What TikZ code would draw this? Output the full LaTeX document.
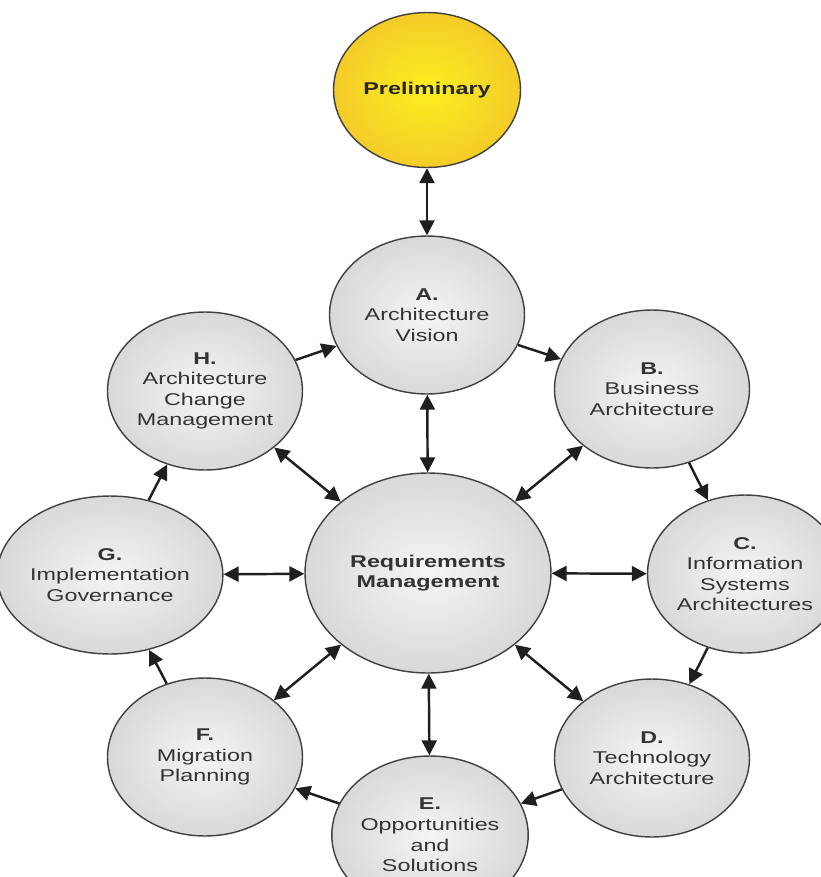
\documentclass[tikz,border=0pt]{standalone}
\usepackage{fontspec}
\setmainfont{Liberation Sans}[FakeStretch=1.37]
\usetikzlibrary{shapes.geometric,arrows.meta}
\definecolor{prelimin}{RGB}{252,238,32}
\definecolor{prelimout}{RGB}{244,204,40}
\begin{document}
\begin{tikzpicture}[x=0.02cm,y=-0.02cm,>={Triangle[length=0.3cm,width=0.3cm]},
  phase/.style={ellipse,draw=black!75,line width=0.8pt,inner sep=0pt,
    minimum width=3.9cm,minimum height=3.16cm,align=center,text=black!80,
    shading=radial,inner color=black!4,outer color=black!15,
    font=\fontsize{9.7pt}{11.7pt}\selectfont},
  link/.style={line width=1.4pt,draw=black!88}]
 \clip (0,0) rectangle (821,877);
 \node[phase,minimum width=3.74cm,minimum height=3.1cm,inner color=prelimin,outer color=prelimout,
   text=black!85] (pre) at (427,90) {\textbf{Preliminary}};
 \node[phase,minimum width=4.92cm,minimum height=4cm] (rm) at (428,573)
   {\textbf{Requirements}\\\textbf{Management}};
 \foreach \n/\x/\y/\t in {
   a/427/315/{\textbf{A.}\\Architecture\\Vision},
   b/652/389/{\textbf{B.}\\Business\\Architecture},
   c/745/574/{\textbf{C.}\\Information\\Systems\\Architectures},
   d/652/758/{\textbf{D.}\\Technology\\Architecture},
   e/430/835/{\textbf{E.}\\Opportunities\\and\\Solutions},
   f/205/757/{\textbf{F.}\\Migration\\Planning},
   g/110/575/{\textbf{G.}\\Implementation\\Governance},
   h/205/391/{\textbf{H.}\\Architecture\\Change\\Management}}
   \node[phase] (\n) at (\x,\y) {\t};
 \draw[link,<->] (pre) -- (a);
 \foreach \u/\v in {h/a,a/b,b/c,c/d,d/e,e/f,f/g,g/h}
   \draw[link,->] (\u) -- (\v);
 \foreach \v in {a,b,c,d,e,f,g,h}
   \draw[link,<->] (rm) -- (\v);
\end{tikzpicture}
\end{document}
